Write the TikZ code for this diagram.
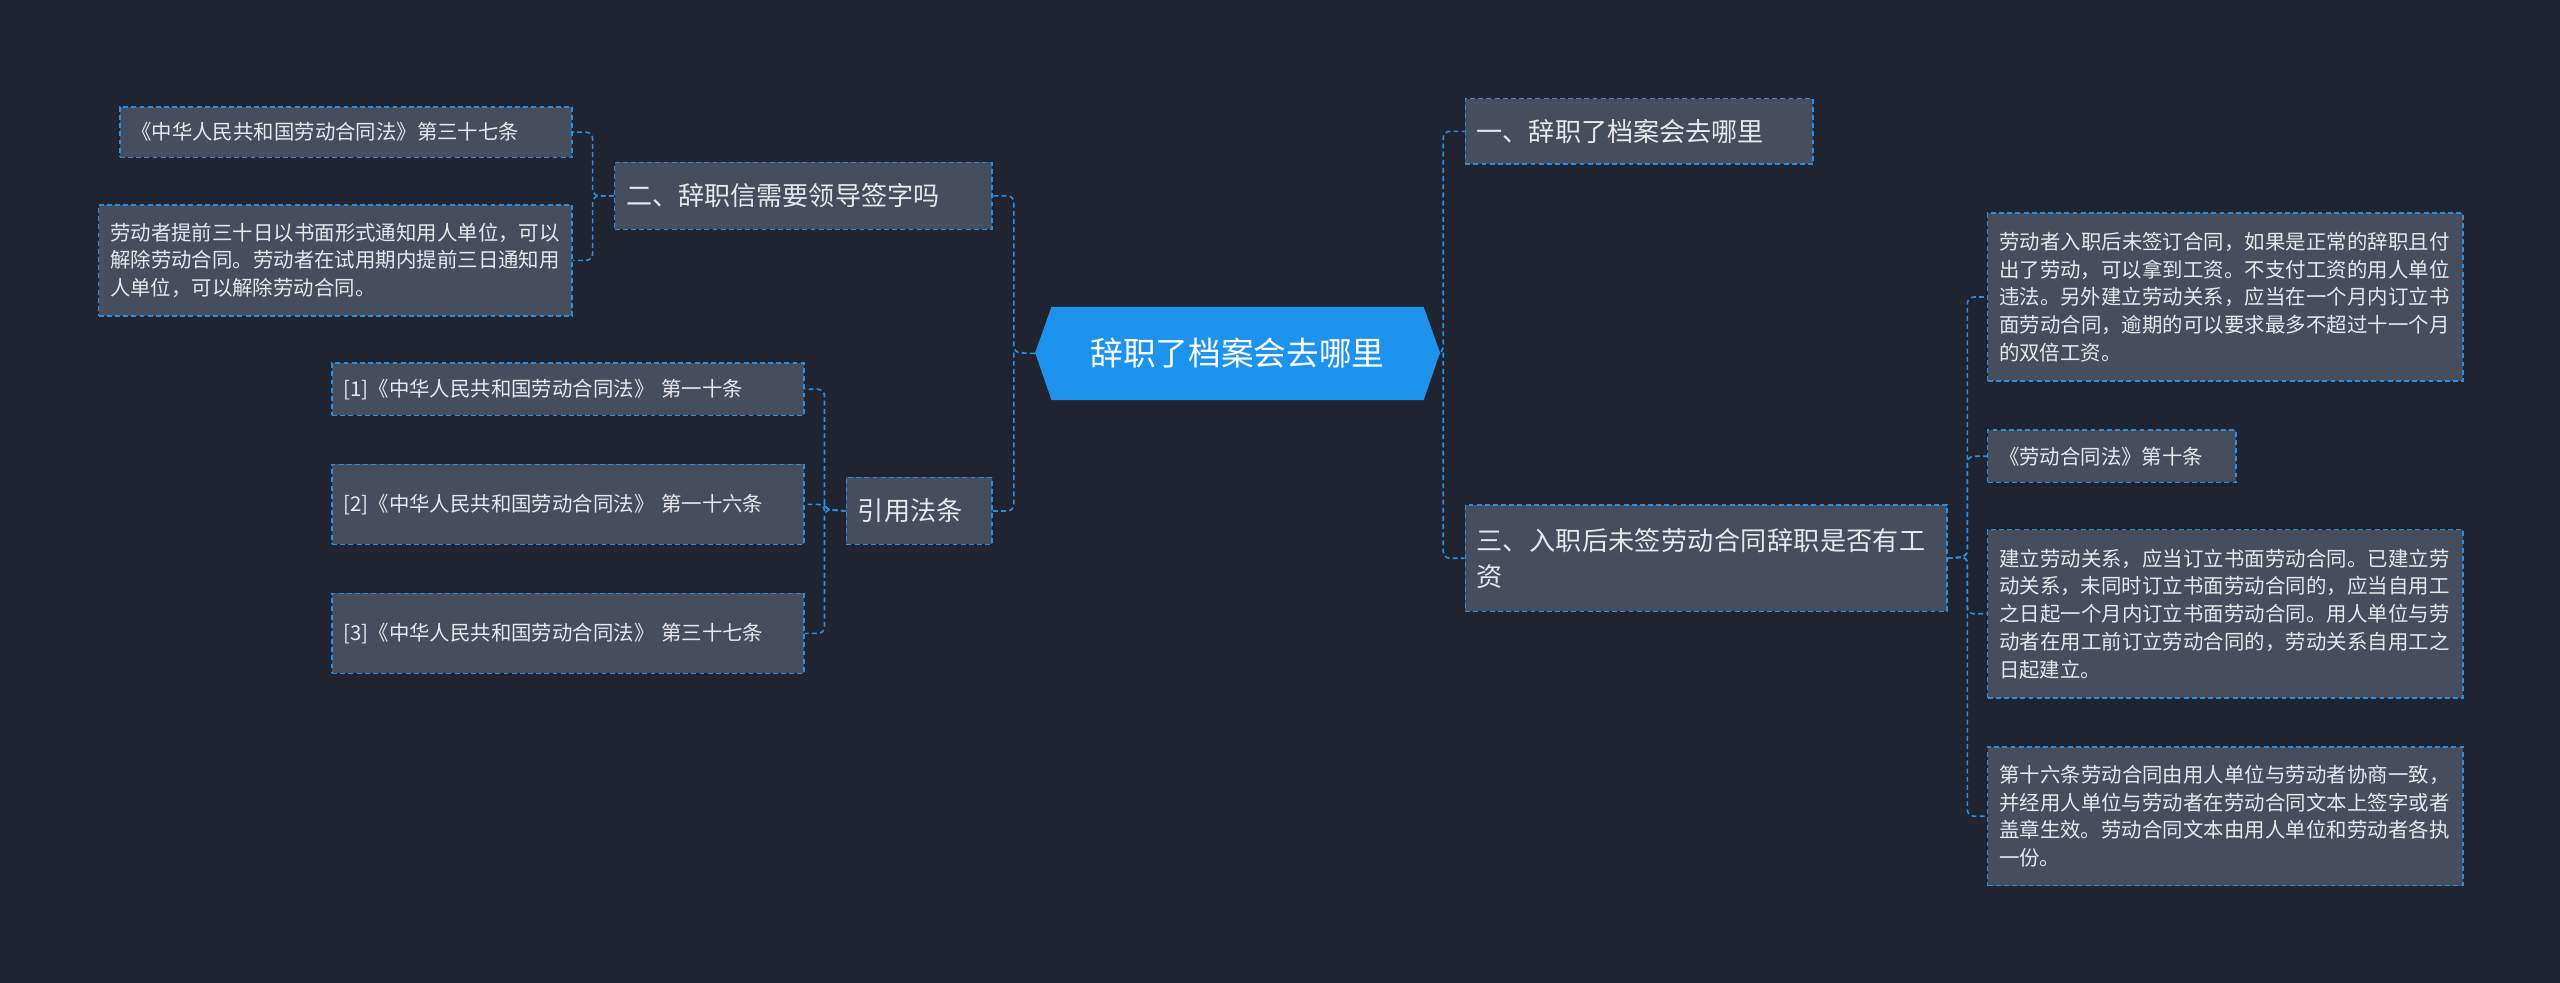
\documentclass[tikz,border=0pt]{standalone}
\usepackage{fontspec}
\setmainfont{Noto Sans CJK SC}
\XeTeXlinebreaklocale "zh"
\XeTeXlinebreakskip=0pt plus 1pt
\usetikzlibrary{calc}
\definecolor{bg}{HTML}{1F2430}
\definecolor{nfill}{HTML}{464D5D}
\definecolor{bl}{HTML}{2B8DE0}
\definecolor{cfill}{HTML}{1E93EE}
\definecolor{tx}{HTML}{E6E8EC}
\tikzset{
 box/.style={draw=bl, fill=nfill, dashed, dash pattern=on 3pt off 2pt, line width=0.9pt, text=tx, anchor=north west, inner xsep=7pt, inner ysep=2pt, align=left},
 leaf/.style={box, font=\fontsize{12.5}{17}\selectfont},
 branch/.style={box, font=\fontsize{16}{22}\selectfont},
 conn/.style={draw=bl, dashed, dash pattern=on 3pt off 2pt, line width=1pt, rounded corners=4pt},
}
\newcommand{\bx}[7]{% style,name,x1,y1,x2,y2,text
 \node[#1, minimum width={#5-#3}, minimum height={#6-#4}, text width={#5-#3-14}] (#2) at (#3,#4) {#7};}
\begin{document}
\begin{tikzpicture}[x=1pt,y=-1pt]
\fill[bg] (0,0) rectangle (1568,602);
\useasboundingbox (0,0) rectangle (1568,602);
% center
\fill[cfill] (634,216) -- (644,188) -- (872,188) -- (882,216) -- (872,245) -- (644,245) -- cycle;
\node[text=white, font=\fontsize{20}{24}\selectfont, minimum width=248, minimum height=57] (ctr) at (758,216.5) {辞职了档案会去哪里};
% right
\bx{branch}{A}{897}{60}{1110}{100}{一、辞职了档案会去哪里}
\bx{branch}{C}{897}{309}{1192}{374}{三、入职后未签劳动合同辞职是否有工资}
\bx{leaf}{c1}{1217}{130}{1508}{233}{劳动者入职后未签订合同，如果是正常的辞职且付出了劳动，可以拿到工资。不支付工资的用人单位违法。另外建立劳动关系，应当在一个月内订立书面劳动合同，逾期的可以要求最多不超过十一个月的双倍工资。}
\bx{leaf}{c2}{1217}{263}{1369}{295}{《劳动合同法》第十条}
\bx{leaf}{c3}{1217}{324}{1508}{427}{建立劳动关系，应当订立书面劳动合同。已建立劳动关系，未同时订立书面劳动合同的，应当自用工之日起一个月内订立书面劳动合同。用人单位与劳动者在用工前订立劳动合同的，劳动关系自用工之日起建立。}
\bx{leaf}{c4}{1217}{457}{1508}{542}{第十六条劳动合同由用人单位与劳动者协商一致，并经用人单位与劳动者在劳动合同文本上签字或者盖章生效。劳动合同文本由用人单位和劳动者各执一份。}
% left
\bx{branch}{B}{376}{99}{607}{140}{二、辞职信需要领导签字吗}
\bx{leaf}{b1}{73}{65}{350}{96}{《中华人民共和国劳动合同法》第三十七条}
\bx{leaf}{b2}{60}{125}{350}{193}{劳动者提前三十日以书面形式通知用人单位，可以解除劳动合同。劳动者在试用期内提前三日通知用人单位，可以解除劳动合同。}
\bx{branch}{D}{518}{292}{607}{333}{引用法条}
\bx{leaf}{d1}{203}{222}{492}{254}{[1]《中华人民共和国劳动合同法》 第一十条}
\bx{leaf}{d2}{203}{284}{492}{333}{[2]《中华人民共和国劳动合同法》 第一十六条}
\bx{leaf}{d3}{203}{363}{492}{412}{[3]《中华人民共和国劳动合同法》 第三十七条}
% connectors
\coordinate (rj) at (884,216);
\draw[conn] (ctr.east) -- (rj) |- (A.west);
\draw[conn] (rj) |- (C.west);
\coordinate (cj) at (1205,341);
\foreach \n in {c1,c2,c3,c4} \draw[conn] (C.east) -- (cj) |- (\n.west);
\coordinate (lj) at (621,216);
\draw[conn] (ctr.west) -- (lj) |- (B.east);
\draw[conn] (lj) |- (D.east);
\coordinate (bj) at (363,120);
\foreach \n in {b1,b2} \draw[conn] (B.west) -- (bj) |- (\n.east);
\coordinate (dj) at (505,312);
\foreach \n in {d1,d2,d3} \draw[conn] (D.west) -- (dj) |- (\n.east);
\end{tikzpicture}
\end{document}
